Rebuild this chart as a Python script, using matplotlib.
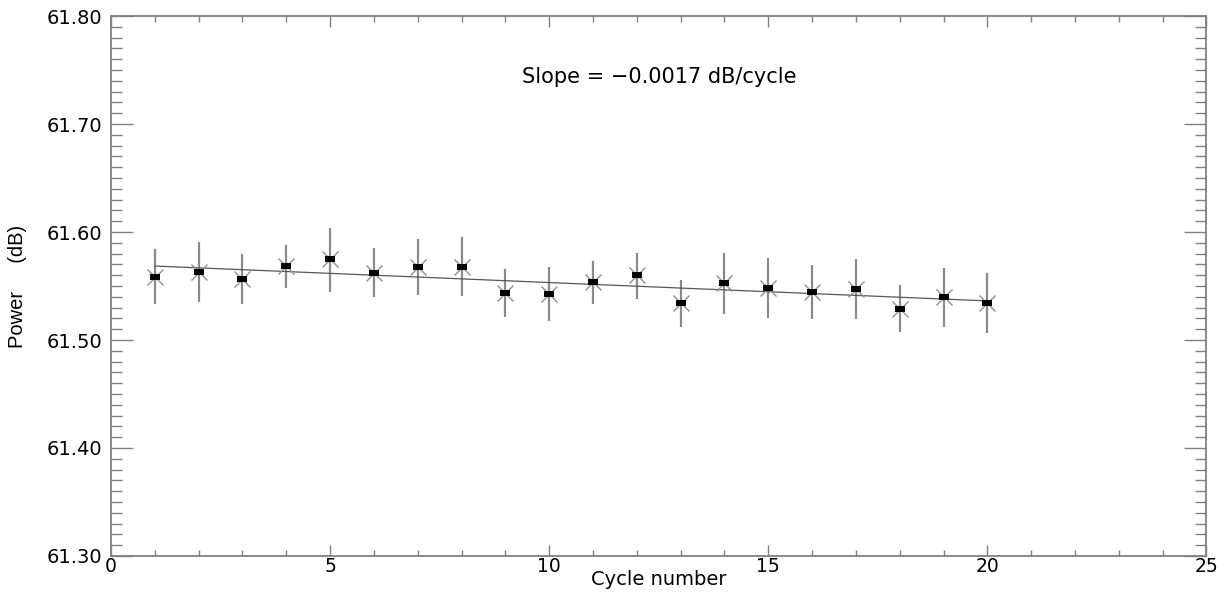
"""Power vs. cycle number with linear fit (IDL-style plot)."""
import matplotlib
matplotlib.use("Agg")
import matplotlib.pyplot as plt
from matplotlib.ticker import MultipleLocator, FormatStrFormatter
import numpy as np

# --- data ---
cycle = np.arange(1, 21)
power = [61.5586, 61.5630, 61.5565, 61.5682, 61.5748, 61.5623, 61.5676, 61.5680, 61.5435, 61.5429,
         61.5537, 61.5602, 61.5340, 61.5525, 61.5484, 61.5447, 61.5472, 61.5290, 61.5395, 61.5345]
upper = [61.5843, 61.5905, 61.5796, 61.5880, 61.6040, 61.5850, 61.5932, 61.5951, 61.5655, 61.5679,
         61.5734, 61.5808, 61.5556, 61.5808, 61.5762, 61.5697, 61.5750, 61.5506, 61.5664, 61.5623]
lower = [61.5331, 61.5352, 61.5333, 61.5481, 61.5447, 61.5401, 61.5417, 61.5407, 61.5216, 61.5176,
         61.5333, 61.5382, 61.5123, 61.5241, 61.5204, 61.5197, 61.5197, 61.5077, 61.5123, 61.5068]
fit_intercept = 61.5702
fit_slope = -0.0017

GRAY = "#808080"
FONT = "DejaVu Sans"

fig = plt.figure(figsize=(12.24, 5.93), dpi=100)
ax = fig.add_axes([0.0907, 0.0624, 0.895, 0.9106])

# error bars, fit line, markers
ax.vlines(cycle, lower, upper, color="#8a8a8a", lw=1.6, zorder=2)
fit = fit_intercept + fit_slope * cycle
ax.plot(cycle, fit, color="#555555", lw=0.9, zorder=3)
ax.plot(cycle, power, ls="none", marker="x", ms=11, mew=1.0, color="#909090", zorder=4)
rect = [(-1.4, -1), (1.4, -1), (1.4, 1), (-1.4, 1), (-1.4, -1)]
ax.plot(cycle, power, ls="none", marker=rect, ms=7, color="black", mew=0, zorder=5)

ax.set_xlim(0, 25)
ax.set_ylim(61.30, 61.80)
ax.xaxis.set_major_locator(MultipleLocator(5))
ax.xaxis.set_minor_locator(MultipleLocator(1))
ax.yaxis.set_major_locator(MultipleLocator(0.1))
ax.yaxis.set_minor_locator(MultipleLocator(0.01))
ax.yaxis.set_major_formatter(FormatStrFormatter("%.2f"))

for s in ax.spines.values():
    s.set_color(GRAY)
    s.set_linewidth(1.3)
ax.tick_params(which="both", direction="in", top=True, right=True, color=GRAY, width=1.0)
ax.tick_params(axis="y", which="major", length=16, pad=6, labelsize=14)
ax.tick_params(axis="y", which="minor", length=8)
ax.tick_params(axis="x", which="major", length=8, pad=1, labelsize=13.5)
ax.tick_params(axis="x", which="minor", length=4.5)
for lab in ax.get_xticklabels() + ax.get_yticklabels():
    lab.set_family(FONT)

ax.set_xlabel("Cycle number", fontsize=14, family=FONT)
ax.xaxis.set_label_coords(0.5, -0.026)
ax.set_ylabel("Power     (dB)", fontsize=14.5, family=["Liberation Sans Narrow", "Liberation Sans"])
ax.yaxis.set_label_coords(-0.077, 0.5)

ax.text(0.5, 0.887, "Slope = \u22120.0017 dB/cycle", transform=ax.transAxes,
        ha="center", va="center", fontsize=15, family=FONT)

fig.savefig("out.png", dpi=100)
